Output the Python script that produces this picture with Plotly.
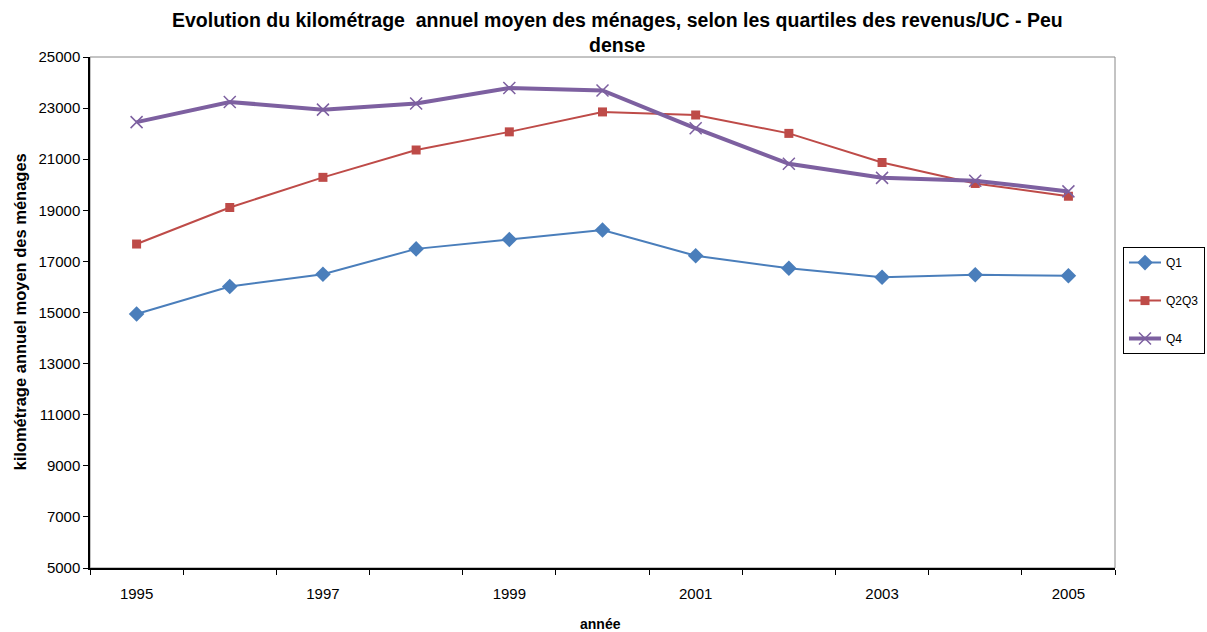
import plotly.graph_objects as go

years = [1995, 1996, 1997, 1998, 1999, 2000, 2001, 2002, 2003, 2004, 2005]
q1 = [14940, 16020, 16500, 17490, 17860, 18230, 17220, 16730, 16380, 16480, 16440]
q2q3 = [17680, 19110, 20290, 21360, 22070, 22850, 22730, 22010, 20870, 20050, 19550]
q4 = [22450, 23240, 22940, 23180, 23790, 23690, 22210, 20820, 20270, 20160, 19740]
y_ticks = list(range(5000, 25001, 2000))
x_labels = [1995, 1997, 1999, 2001, 2003, 2005]

title_l1 = "Evolution du kilométrage  annuel moyen des ménages, selon les quartiles des revenus/UC - Peu"
title_l2 = "dense"
y_title = "kilométrage annuel moyen des ménages"
x_title = "année"

FONT = "Liberation Sans, Arial, sans-serif"

fig = go.Figure()
fig.add_trace(go.Scatter(x=years, y=q1, name="Q1", mode="lines+markers", legendgroup="a",
                         line=dict(color="#4A7EBB", width=2),
                         marker=dict(symbol="diamond", size=12, color="#4A7EBB")))
fig.add_trace(go.Scatter(x=years, y=q2q3, name="Q2Q3", mode="lines+markers", legendgroup="b",
                         line=dict(color="#BE4B48", width=2),
                         marker=dict(symbol="square", size=9, color="#BE4B48")))
fig.add_trace(go.Scatter(x=years, y=q4, name="Q4", mode="lines+markers", legendgroup="c",
                         line=dict(color="#7D60A0", width=4),
                         marker=dict(symbol="x-thin", size=12, color="#7D60A0",
                                     line=dict(color="#7D60A0", width=1.5))))

fig.update_layout(
    width=1207, height=632,
    margin=dict(l=90, r=92, t=57, b=64, autoexpand=False),
    paper_bgcolor="white", plot_bgcolor="white",
    font=dict(family=FONT, size=12, color="black"),
    showlegend=True,
    legend=dict(x=1.0078, y=0.628, xanchor="left", yanchor="top",
                bordercolor="black", borderwidth=1, bgcolor="white",
                font=dict(size=12, family=FONT), tracegroupgap=19,
                itemwidth=32),
    xaxis=dict(range=[1994.5, 2005.5], tickvals=x_labels, ticktext=[str(v) for v in x_labels],
               ticks="", showgrid=False, zeroline=False, automargin=False,
               showline=True, linecolor="black", linewidth=2,
               ticklabelstandoff=11,
               tickfont=dict(size=15, family=FONT),
               minor=dict(tickmode="linear", tick0=1994.5, dtick=1, ticks="outside",
                          ticklen=5, tickcolor="black", showgrid=False)),
    yaxis=dict(range=[5000, 25000], tickvals=y_ticks, ticktext=[str(v) for v in y_ticks],
               ticks="outside", ticklen=5, automargin=False,
               tickcolor="black", showgrid=False, zeroline=False,
               showline=True, linecolor="black", linewidth=1.5,
               tickfont=dict(size=15, family=FONT)),
    shapes=[dict(type="rect", xref="paper", yref="paper", x0=0, x1=1, y0=0, y1=1,
                 line=dict(color="#888888", width=1), layer="below")],
    annotations=[
        dict(text="<b>" + title_l1 + "</b>", xref="paper", yref="paper",
             x=(617 - 90) / 1025, y=1 + (57 - 20) / 511, xanchor="center", yanchor="middle",
             showarrow=False, font=dict(size=19.5, family=FONT)),
        dict(text="<b>" + title_l2 + "</b>", xref="paper", yref="paper",
             x=(617 - 90) / 1025, y=1 + (57 - 45) / 511, xanchor="center", yanchor="middle",
             showarrow=False, font=dict(size=19.5, family=FONT)),
        dict(text="<b>" + y_title + "</b>", xref="paper", yref="paper",
             x=(19 - 90) / 1025, y=0.5, xanchor="center", yanchor="middle", textangle=-90,
             showarrow=False, font=dict(size=16.5, family=FONT)),
        dict(text="<b>" + x_title + "</b>", xref="paper", yref="paper",
             x=(600 - 90) / 1025, y=-(624 - 568) / 511, xanchor="center", yanchor="middle",
             showarrow=False, font=dict(size=14, family=FONT)),
    ],
)

fig.write_html("out.html", config={"displayModeBar": False},
               post_script="document.body.style.margin='0';document.body.style.padding='0';")
